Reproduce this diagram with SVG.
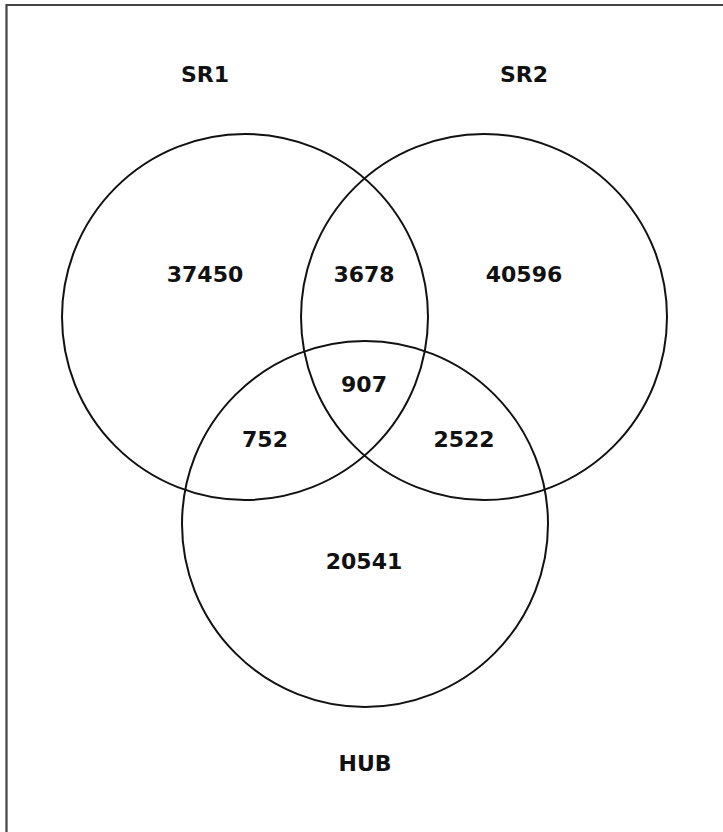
<svg xmlns="http://www.w3.org/2000/svg" width="723" height="832" viewBox="0 0 723 832">
<style>
.c{fill:none;stroke:#111;stroke-width:2}
.t{font-family:"DejaVu Sans",sans-serif;font-weight:bold;font-size:22px;fill:#111;text-anchor:middle}
</style>
<rect width="723" height="832" fill="#fff"/>
<path d="M6.5 832 V5 H723" fill="none" stroke="#444" stroke-width="2.2"/>
<g id="SR1"><circle class="c" cx="245" cy="317" r="183"/><text class="t" x="205" y="82">SR1</text></g>
<g id="SR2"><circle class="c" cx="484" cy="317" r="183"/><text class="t" x="524" y="82">SR2</text></g>
<g id="HUB"><circle class="c" cx="365" cy="524" r="183"/><text class="t" x="365" y="771">HUB</text></g>
<g id="counts">
<text class="t" x="205" y="282">37450</text>
<text class="t" x="364" y="282">3678</text>
<text class="t" x="524" y="282">40596</text>
<text class="t" x="364" y="392">907</text>
<text class="t" x="265" y="447">752</text>
<text class="t" x="464" y="447">2522</text>
<text class="t" x="364" y="569">20541</text>
</g>
<g id="connectors"/>
</svg>
